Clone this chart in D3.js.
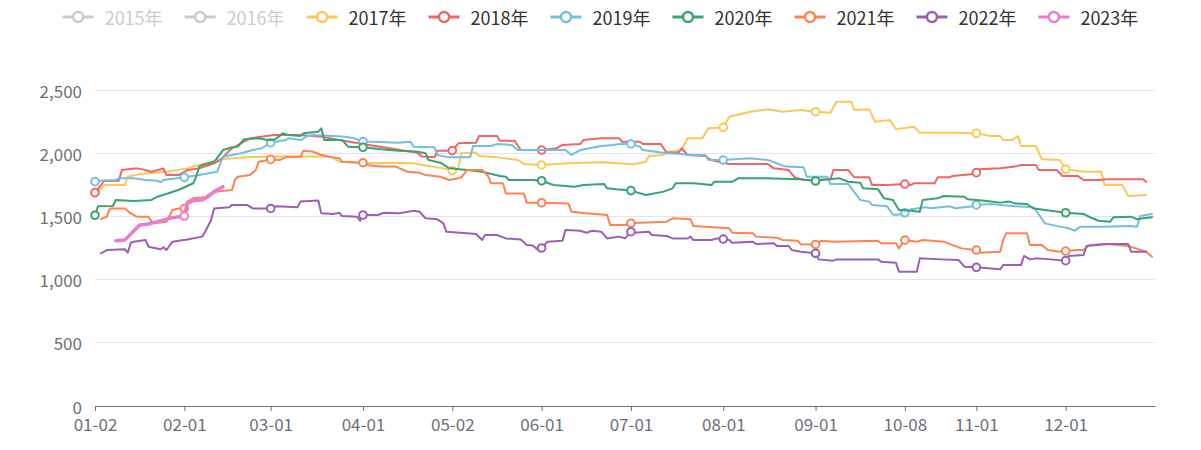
<!DOCTYPE html>
<html><head><meta charset="utf-8">
<script src="https://cdn.jsdelivr.net/npm/d3@7/dist/d3.min.js"></script>
<style>
body{margin:0;background:#fff}
svg{display:block}
text{font-family:"Noto Sans CJK SC","Noto Sans",sans-serif}
</style>
</head><body>
<svg id="chart" width="1201" height="450"></svg>
<script>
// ---- categories (trading-calendar MM-DD union) ----
const monthRanges = [["01",2,31],["02",1,29],["03",1,31],["04",1,30],["05",2,31],["06",1,30],
  ["07",1,31],["08",1,31],["09",1,30],["10",8,31],["11",1,30],["12",1,31]];
const categories = [];
monthRanges.forEach(([m,s,e]) => { for (let d = s; d <= e; d++) categories.push(m + "-" + String(d).padStart(2,"0")); });

const tickLabels = ["01-02","02-01","03-01","04-01","05-02","06-01","07-01","08-01","09-01","10-08","11-01","12-01"];
const yTicks = [0,500,1000,1500,2000,2500];
const seriesNames = ["2015年","2016年","2017年","2018年","2019年","2020年","2021年","2022年","2023年"];
const seriesColors = ["#5470c6","#91cc75","#fac858","#ee6666","#73c0de","#3ba272","#fc8452","#9a60b4","#ea7ccc"];
const hiddenSeries = ["2015年","2016年"];

const s2015 = [];
const s2016 = [];
const s2017 = [["01-03",1695],["01-05",1748],["01-12",1748],["01-13",1814],["01-17",1835],["01-26",1853],["02-02",1880],
 ["02-06",1907],["02-14",1954],["02-23",1970],["03-06",1975],["03-21",1972],["03-24",1933],["03-31",1925],["04-06",1920],
 ["04-10",1925],["04-18",1920],["04-21",1907],["04-28",1880],["05-02",1862],["05-04",1880],["05-05",1999],["05-10",2005],
 ["05-11",1978],["05-17",1967],["05-24",1946],["05-26",1915],["06-01",1907],["06-10",1920],["06-21",1928],["07-02",1912],
 ["07-06",1933],["07-07",1978],["07-12",1986],["07-13",2005],["07-18",2025],["07-20",2118],["07-25",2118],["07-27",2197],
 ["08-01",2204],["08-03",2289],["08-10",2328],["08-16",2347],["08-21",2328],["08-27",2342],["09-01",2328],["09-06",2320],
 ["09-08",2407],["09-13",2407],["09-14",2342],["09-19",2347],["09-21",2249],["09-26",2263],["09-28",2189],["10-11",2210],
 ["10-13",2162],["10-25",2162],["11-01",2157],["11-06",2136],["11-09",2136],["11-10",2104],["11-13",2104],["11-15",2136],
 ["11-16",2057],["11-21",2057],["11-23",1952],["11-29",1946],["12-01",1873],["12-07",1853],["12-13",1853],["12-14",1748],
 ["12-20",1748],["12-22",1661],["12-28",1669]];
const s2018 = [["01-02",1688],["01-04",1748],["01-05",1780],["01-10",1782],["01-11",1867],["01-16",1880],["01-18",1872],
 ["01-21",1853],["01-25",1880],["01-26",1827],["01-30",1827],["02-02",1867],["02-06",1880],["02-11",1920],["02-13",1946],
 ["02-17",2039],["02-23",2118],["03-02",2144],["03-11",2144],["03-18",2131],["03-24",2104],["04-03",2065],["04-10",2039],
 ["04-15",2020],["04-19",2005],["04-21",1973],["04-25",1967],["04-26",2020],["05-02",2020],["05-04",2078],["05-10",2083],
 ["05-11",2136],["05-17",2136],["05-18",2099],["05-23",2097],["05-25",2025],["06-01",2025],["06-06",2039],["06-08",2065],
 ["06-14",2073],["06-15",2104],["06-21",2118],["06-27",2118],["06-28",2091],["07-04",2091],["07-05",2073],["07-11",2073],
 ["07-13",2005],["07-17",2005],["07-18",2039],["07-20",1986],["07-26",1978],["07-28",1946],["08-03",1915],["08-16",1915],
 ["08-18",1880],["08-23",1867],["08-25",1809],["08-28",1788],["09-06",1793],["09-07",1867],["09-12",1867],["09-14",1809],
 ["09-19",1809],["09-20",1748],["09-25",1748],["10-08",1756],["10-10",1748],["10-11",1762],["10-18",1762],["10-19",1809],
 ["10-23",1809],["10-24",1820],["10-31",1835],["11-01",1846],["11-02",1873],["11-09",1880],["11-14",1894],["11-16",1907],
 ["11-21",1907],["11-22",1867],["11-28",1867],["11-30",1820],["12-05",1820],["12-07",1788],["12-12",1788],["12-15",1793],
 ["12-27",1793],["12-28",1774]];
const s2019 = [["01-02",1775],["01-03",1782],["01-09",1788],["01-10",1801],["01-15",1801],["01-19",1788],["01-23",1782],
 ["01-24",1770],["01-25",1788],["02-01",1809],["02-06",1827],["02-12",1853],["02-14",1972],["02-20",1999],["02-24",2025],
 ["02-27",2039],["03-01",2083],["03-06",2104],["03-07",2118],["03-11",2104],["03-13",2131],["03-15",2144],["03-22",2136],
 ["03-26",2131],["03-29",2118],["04-01",2092],["04-04",2091],["04-13",2083],["04-17",2091],["04-18",2052],["04-25",2047],
 ["04-26",1986],["04-30",1967],["05-08",1967],["05-09",2057],["05-15",2057],["05-17",2073],["05-22",2065],["05-24",2025],
 ["06-09",2025],["06-11",1986],["06-14",2025],["06-21",2057],["06-25",2065],["06-27",2073],["07-01",2073],["07-04",2052],
 ["07-05",2025],["07-13",1999],["07-18",1994],["07-20",1986],["07-26",1986],["07-27",1946],["08-01",1946],["08-10",1960],
 ["08-16",1946],["08-22",1894],["08-28",1889],["08-29",1814],["09-05",1814],["09-06",1756],["09-12",1756],["09-16",1630],
 ["09-19",1617],["09-20",1591],["09-25",1580],["09-27",1514],["09-29",1514],["10-08",1529],["10-10",1556],["10-15",1572],
 ["10-17",1564],["10-23",1580],["10-25",1564],["10-31",1580],["11-01",1591],["11-06",1599],["11-09",1591],["11-14",1580],
 ["11-20",1572],["11-21",1551],["11-24",1445],["11-29",1419],["12-02",1406],["12-04",1387],["12-06",1419],["12-13",1419],
 ["12-23",1424],["12-25",1419],["12-26",1503],["12-30",1519]];
const s2020 = [["01-02",1509],["01-03",1580],["01-08",1582],["01-09",1630],["01-15",1622],["01-21",1630],["01-23",1656],
 ["01-30",1709],["02-04",1762],["02-05",1814],["02-06",1894],["02-07",1907],["02-11",1933],["02-12",1960],["02-14",2025],
 ["02-17",2047],["02-19",2052],["02-21",2110],["02-26",2118],["02-29",2104],["03-02",2104],["03-04",2136],["03-05",2157],
 ["03-07",2144],["03-11",2136],["03-12",2157],["03-17",2170],["03-18",2197],["03-19",2104],["03-25",2104],["03-27",2052],
 ["04-01",2047],["04-07",2031],["04-13",2020],["04-19",2013],["04-22",1999],["04-23",1946],["04-27",1925],["04-30",1880],
 ["05-07",1867],["05-12",1853],["05-18",1820],["05-20",1814],["05-21",1788],["05-29",1788],["06-01",1782],["06-05",1748],
 ["06-12",1735],["06-15",1748],["06-22",1756],["06-23",1722],["06-26",1714],["07-01",1704],["07-06",1669],["07-12",1696],
 ["07-15",1722],["07-16",1762],["07-22",1762],["07-28",1748],["07-29",1774],["08-04",1774],["08-06",1801],["08-15",1801],
 ["08-27",1793],["09-01",1780],["09-03",1788],["09-09",1801],["09-12",1774],["09-16",1767],["09-17",1722],["09-22",1714],
 ["09-24",1643],["09-27",1630],["09-29",1551],["10-10",1545],["10-13",1537],["10-14",1630],["10-19",1643],["10-21",1661],
 ["10-28",1656],["10-29",1635],["11-03",1625],["11-06",1617],["11-09",1609],["11-12",1617],["11-14",1603],["11-18",1598],
 ["11-20",1564],["11-24",1551],["12-01",1529],["12-07",1519],["12-10",1485],["12-12",1466],["12-16",1458],["12-17",1493],
 ["12-23",1498],["12-25",1477],["12-27",1485],["12-30",1493]];
const s2021 = [["01-04",1479],["01-06",1498],["01-07",1563],["01-12",1563],["01-14",1524],["01-16",1498],["01-20",1498],
 ["01-21",1458],["01-23",1450],["01-26",1458],["01-28",1551],["01-30",1563],["02-01",1563],["02-02",1617],["02-04",1643],
 ["02-08",1651],["02-09",1669],["02-12",1696],["02-17",1709],["02-18",1788],["02-19",1814],["02-23",1827],["02-25",1867],
 ["02-26",1933],["03-01",1951],["03-04",1946],["03-06",1967],["03-11",1972],["03-12",2020],["03-15",2013],["03-18",1986],
 ["03-22",1967],["03-24",1960],["03-25",1933],["04-01",1925],["04-02",1907],["04-07",1894],["04-12",1894],["04-16",1853],
 ["04-20",1846],["04-22",1827],["04-27",1814],["04-30",1788],["05-04",1801],["05-05",1809],["05-07",1867],["05-12",1867],
 ["05-14",1820],["05-15",1762],["05-19",1762],["05-20",1682],["05-26",1682],["05-27",1608],["06-01",1608],["06-10",1603],
 ["06-11",1537],["06-16",1524],["06-23",1511],["06-24",1432],["06-29",1432],["07-01",1446],["07-04",1450],["07-13",1458],
 ["07-15",1485],["07-21",1477],["07-22",1424],["08-03",1406],["08-04",1371],["08-11",1366],["08-12",1340],["08-19",1332],
 ["08-21",1313],["08-26",1308],["08-27",1280],["09-01",1278],["09-03",1308],["09-07",1300],["09-22",1308],["09-23",1287],
 ["09-28",1287],["09-29",1247],["10-08",1313],["10-12",1300],["10-14",1313],["10-21",1300],["10-27",1247],["11-01",1234],
 ["11-02",1213],["11-09",1221],["11-10",1313],["11-11",1366],["11-18",1366],["11-19",1274],["11-23",1274],["11-25",1234],
 ["11-29",1221],["12-01",1226],["12-05",1234],["12-07",1234],["12-09",1274],["12-15",1281],["12-22",1266],["12-28",1221],
 ["12-30",1181]];
const s2022 = [["01-04",1208],["01-06",1234],["01-12",1240],["01-13",1213],["01-14",1292],["01-15",1300],["01-19",1313],
 ["01-20",1260],["01-24",1240],["01-25",1255],["01-26",1234],["01-28",1300],["02-02",1318],["02-07",1340],["02-08",1379],
 ["02-10",1472],["02-11",1563],["02-16",1572],["02-17",1591],["02-22",1591],["02-24",1563],["03-01",1563],["03-03",1580],
 ["03-10",1572],["03-11",1617],["03-17",1625],["03-18",1524],["03-22",1519],["03-24",1529],["03-25",1503],["03-30",1498],
 ["03-31",1466],["04-01",1511],["04-06",1511],["04-08",1529],["04-13",1524],["04-18",1545],["04-20",1537],["04-22",1485],
 ["04-26",1477],["04-28",1445],["04-29",1379],["05-07",1366],["05-10",1361],["05-12",1313],["05-13",1353],["05-17",1353],
 ["05-20",1326],["05-25",1318],["05-27",1274],["05-29",1270],["05-31",1230],["06-01",1250],["06-03",1300],["06-08",1308],
 ["06-09",1392],["06-14",1387],["06-16",1371],["06-18",1387],["06-21",1379],["06-23",1326],["06-27",1340],["06-29",1326],
 ["07-01",1379],["07-02",1371],["07-07",1379],["07-08",1353],["07-13",1345],["07-15",1326],["07-20",1326],["07-21",1340],
 ["07-22",1313],["07-28",1313],["07-30",1326],["08-01",1321],["08-03",1313],["08-04",1292],["08-11",1300],["08-12",1281],
 ["08-18",1287],["08-19",1266],["08-23",1266],["08-24",1234],["08-27",1221],["09-01",1208],["09-02",1160],["09-07",1150],
 ["09-08",1160],["09-22",1160],["09-23",1142],["09-28",1134],["09-29",1062],["10-12",1062],["10-13",1168],["10-20",1160],
 ["10-26",1155],["10-28",1102],["11-01",1097],["11-05",1089],["11-09",1081],["11-10",1115],["11-16",1115],["11-17",1187],
 ["11-19",1160],["11-21",1168],["11-26",1160],["12-01",1150],["12-02",1187],["12-07",1195],["12-08",1266],["12-15",1281],
 ["12-22",1281],["12-23",1221],["12-28",1221]];
const s2023 = [["01-09",1308],["01-12",1313],["01-17",1432],["01-20",1440],["01-28",1490],["02-01",1503],["02-02",1603],
 ["02-04",1625],["02-07",1630],["02-09",1656],["02-11",1696],["02-13",1722],["02-14",1735]];

const seriesData = [s2015,s2016,s2017,s2018,s2019,s2020,s2021,s2022,s2023];

// ---- drawing ----
const svg = d3.select("#chart");
const axisColor = "#6E7079";
const x = d3.scalePoint().domain(categories).range([95,1155]);
const y = d3.scaleLinear().domain([0,2500]).range([406,90]);

// grid
svg.append("g").selectAll("line").data(yTicks.filter(v=>v>0)).join("line")
  .attr("x1",95).attr("x2",1155).attr("y1",d=>y(d)).attr("y2",d=>y(d))
  .attr("stroke","#E0E6F1").attr("stroke-width",1).attr("shape-rendering","crispEdges");

// y axis labels
svg.append("g").selectAll("text").data(yTicks).join("text")
  .attr("x",82).attr("y",d=>y(d)).attr("text-anchor","end").attr("dominant-baseline","central")
  .attr("font-size",17).attr("fill",axisColor).text(d=>d3.format(",")(d));

// x axis
const xAxis = d3.axisBottom(x).tickValues(tickLabels).tickSize(5).tickSizeOuter(0).tickPadding(8);
const gx = svg.append("g").attr("transform","translate(0,406)").call(xAxis);
gx.select(".domain").attr("stroke",axisColor).attr("stroke-width",1);
gx.selectAll(".tick line").attr("stroke",axisColor);
gx.selectAll(".tick text").attr("font-size",17).attr("fill",axisColor).attr("font-family",null);

// series
const line = d3.line().x(d=>x(d[0])).y(d=>y(d[1]));
seriesNames.forEach((name,i)=>{
  if (hiddenSeries.includes(name)) return;
  const data = seriesData[i];
  const g = svg.append("g");
  g.append("path").datum(data).attr("d",line).attr("fill","none")
    .attr("stroke",seriesColors[i]).attr("stroke-width",name==="2023年"?3.5:2)
    .attr("stroke-linejoin","round").attr("stroke-linecap","round");
  g.selectAll("circle").data(data.filter(d=>tickLabels.includes(d[0]))).join("circle")
    .attr("cx",d=>x(d[0])).attr("cy",d=>y(d[1])).attr("r",3.8)
    .attr("fill","#fff").attr("stroke",seriesColors[i]).attr("stroke-width",2);
});

// legend
const lg = svg.append("g");
const items = seriesNames.map((name,i)=>{
  const off = hiddenSeries.includes(name);
  const col = off ? "#ccc" : seriesColors[i];
  const gi = lg.append("g");
  gi.append("line").attr("x1",0).attr("x2",31).attr("y1",17).attr("y2",17).attr("stroke",col).attr("stroke-width",3);
  gi.append("circle").attr("cx",15.5).attr("cy",17).attr("r",5).attr("fill","#fff").attr("stroke",col).attr("stroke-width",2.5);
  const t = gi.append("text").attr("x",42).attr("y",17).attr("dominant-baseline","central")
    .attr("font-size",18).attr("fill",off?"#ccc":"#333").text(name);
  return {gi, w: 42 + t.node().getComputedTextLength()};
});
const gap = 22;
const total = d3.sum(items,d=>d.w) + gap*(items.length-1);
let cx = 600.5 - total/2;
items.forEach(it=>{ it.gi.attr("transform",`translate(${cx},0)`); cx += it.w + gap; });
</script>
</body></html>
